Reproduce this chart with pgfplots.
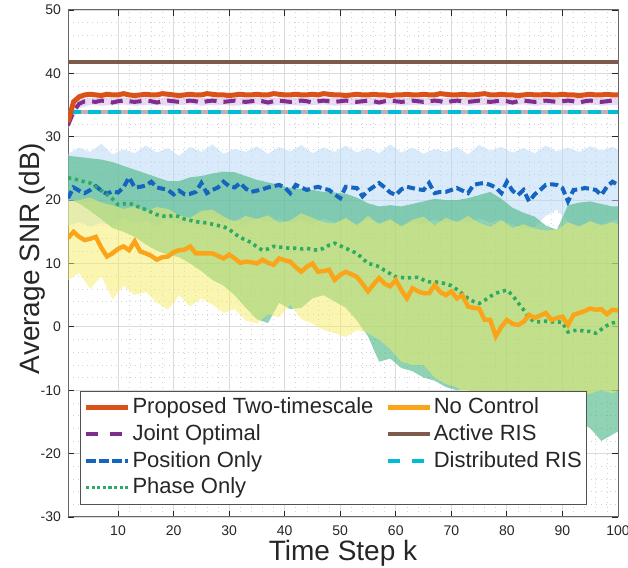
\documentclass[border=0pt]{standalone}
\usepackage{fontspec}
\setmainfont{Liberation Sans}
\usepackage{pgfplots}
\pgfplotsset{compat=1.18}
\usepgfplotslibrary{fillbetween}
\usepackage{pgfplotstable}

\definecolor{cprop}{RGB}{217,83,25}
\definecolor{cjoint}{RGB}{126,47,142}
\definecolor{cpos}{RGB}{21,101,192}
\definecolor{cphase}{RGB}{46,170,100}
\definecolor{cnc}{RGB}{250,165,25}
\definecolor{cact}{RGB}{125,90,75}
\definecolor{cdist}{RGB}{0,188,212}
\definecolor{cgline}{RGB}{195,175,175}
\definecolor{axgray}{RGB}{38,38,38}
\definecolor{bpos}{RGB}{185,218,245}
\definecolor{bphase}{RGB}{70,180,130}
\definecolor{bnc}{RGB}{245,238,100}
\definecolor{bjoint}{RGB}{200,160,225}

% mean curves, one row per time step
\pgfplotstableread{
k pos ph nc prop jo
1 20.3 23.5 14.0 32.3 31.8
2 22.0 23.4 15.0 35.5 34.0
3 21.5 23.1 14.2 36.3 35.2
4 21.1 22.9 13.7 36.6 35.6
5 21.6 22.7 13.9 36.7 35.6
6 22.2 22.1 14.2 36.6 35.5
7 21.5 21.5 12.5 36.5 35.7
8 21.0 20.9 11.1 36.7 35.6
9 21.4 20.2 11.6 36.6 35.4
10 21.2 19.3 12.3 36.6 35.6
11 22.0 19.4 12.7 36.8 35.7
12 23.6 19.5 12.1 36.6 35.6
13 22.0 19.2 13.5 36.5 35.5
14 22.1 18.8 11.9 36.6 35.6
15 22.3 18.5 11.6 36.7 35.7
16 22.9 18.1 11.2 36.6 35.6
17 22.0 17.7 10.6 36.6 35.4
18 21.8 17.5 11.0 36.8 35.6
19 21.6 17.4 11.1 36.7 35.7
20 20.9 17.6 11.8 36.6 35.6
21 21.5 17.4 12.1 36.5 35.5
22 20.9 17.0 12.2 36.6 35.6
23 21.0 16.8 12.7 36.7 35.7
24 21.3 16.6 11.6 36.6 35.6
25 22.7 16.5 11.6 36.6 35.4
26 21.1 16.4 11.6 36.8 35.6
27 21.6 16.2 11.6 36.7 35.7
28 22.0 16.0 11.2 36.6 35.6
29 22.9 15.8 10.8 36.6 35.5
30 22.2 15.4 11.4 36.5 35.6
31 22.0 14.7 10.8 36.6 35.7
32 22.7 14.1 10.1 36.7 35.6
33 21.8 13.7 10.3 36.6 35.5
34 21.3 13.3 10.2 36.6 35.6
35 21.5 12.6 10.0 36.7 35.7
36 21.7 12.1 10.6 36.6 35.6
37 22.0 12.3 10.1 36.6 35.4
38 22.2 12.7 9.8 36.8 35.6
39 22.4 12.6 10.8 36.7 35.7
40 22.0 12.5 10.5 36.6 35.6
41 21.1 12.4 10.3 36.6 35.5
42 22.4 12.4 9.4 36.7 35.6
43 22.0 12.3 8.7 36.6 35.7
44 21.6 12.4 9.5 36.6 35.6
45 21.9 12.2 10.0 36.7 35.4
46 22.1 12.1 8.7 36.6 35.6
47 21.8 12.4 8.8 36.8 35.7
48 21.6 12.9 9.0 36.7 35.6
49 20.9 13.2 7.4 36.6 35.5
50 20.3 12.8 8.2 36.6 35.6
51 22.1 12.4 8.7 36.5 35.7
52 22.0 12.0 8.3 36.6 35.6
53 21.9 11.6 7.9 36.7 35.5
54 20.6 10.8 6.8 36.6 35.6
55 21.5 10.0 5.6 36.6 35.7
56 22.1 9.8 6.7 36.7 35.6
57 22.7 9.5 7.7 36.6 35.4
58 22.0 8.9 6.8 36.6 35.6
59 21.2 8.4 6.4 36.5 35.7
60 20.8 7.9 7.4 36.6 35.6
61 21.7 7.8 5.8 36.6 35.5
62 22.1 7.7 4.5 36.7 35.6
63 21.9 7.8 6.1 36.6 35.7
64 21.7 7.8 5.6 36.6 35.6
65 21.6 7.4 5.3 36.7 35.5
66 22.7 7.1 5.3 36.6 35.6
67 21.1 7.1 6.6 36.6 35.7
68 21.3 7.0 5.5 36.8 35.6
69 21.3 6.8 5.0 36.7 35.4
70 21.6 6.5 5.6 36.6 35.6
71 21.9 5.9 4.5 36.6 35.7
72 21.5 5.2 5.0 36.7 35.6
73 21.1 4.5 3.2 36.6 35.5
74 22.4 4.0 3.0 36.6 35.6
75 22.6 3.7 2.9 36.7 35.7
76 22.7 4.2 1.1 36.8 35.6
77 22.4 4.8 1.1 36.6 35.5
78 22.0 5.3 -1.5 36.6 35.6
79 21.1 5.6 0.0 36.7 35.7
80 22.9 5.8 1.1 36.6 35.6
81 21.5 5.0 0.5 36.6 35.4
82 20.8 3.8 0.3 36.5 35.6
83 21.6 2.7 0.8 36.6 35.7
84 19.8 1.4 1.9 36.7 35.6
85 20.9 0.8 1.4 36.6 35.5
86 21.6 0.8 1.8 36.6 35.6
87 22.4 0.9 2.2 36.7 35.7
88 22.5 0.8 1.1 36.6 35.6
89 22.4 0.8 1.4 36.6 35.5
90 21.9 0.7 1.6 36.7 35.6
91 19.8 -0.8 0.3 36.6 35.7
92 21.6 -0.6 1.9 36.6 35.6
93 21.7 -0.5 2.2 36.5 35.4
94 21.9 -0.7 2.5 36.6 35.6
95 21.8 -0.7 2.9 36.7 35.7
96 21.6 -1.0 2.7 36.6 35.6
97 20.8 -0.4 2.8 36.6 35.5
98 22.1 0.2 2.0 36.7 35.6
99 22.9 0.6 2.7 36.6 35.7
100 22.4 0.8 2.6 36.6 35.6
}\means

% shaded bands, every second step
\pgfplotstableread{
k poslo poshi phlo phhi nclo nchi jlo jhi
1 16.0 27.3 20.2 27.0 7.4 19.8 31.2 32.4
3 16.5 28.3 19.5 26.8 8.5 20.0 34.5 35.9
5 15.8 27.6 18.3 26.6 6.0 20.4 35.0 36.1
7 16.4 28.9 17.0 26.4 8.0 19.6 34.9 36.2
9 16.0 27.2 15.6 26.0 4.3 19.2 35.0 36.1
11 17.2 28.0 15.0 25.4 6.5 18.6 35.1 36.2
13 16.3 27.4 14.2 24.8 5.0 19.0 34.9 36.1
15 16.8 28.6 13.0 24.2 5.5 18.2 35.0 36.2
17 16.0 27.5 12.0 23.6 3.8 18.9 35.0 36.1
19 17.0 28.2 11.4 23.0 2.7 18.6 34.9 36.2
21 16.2 27.0 11.0 23.0 5.0 17.6 35.0 36.1
23 16.8 28.4 10.0 23.6 3.2 17.2 35.1 36.2
25 16.0 27.6 8.8 23.8 4.5 18.3 34.9 36.1
27 17.3 28.8 7.4 24.2 3.5 18.5 35.0 36.2
29 16.4 27.3 6.5 24.5 2.2 17.4 35.0 36.1
31 16.9 28.1 5.0 24.4 2.8 16.6 34.9 36.2
33 16.1 27.6 3.0 23.8 1.0 17.5 35.0 36.1
35 17.2 28.5 1.2 23.2 0.5 17.0 35.1 36.2
37 16.5 27.3 0.6 22.8 2.0 17.6 34.9 36.1
39 17.0 28.4 3.8 22.4 1.5 16.4 35.0 36.2
41 16.3 27.7 2.8 21.9 3.5 16.8 35.0 36.1
43 16.9 28.7 3.0 21.8 1.2 17.9 34.9 36.2
45 16.1 27.4 4.5 21.6 0.5 17.2 35.0 36.1
47 17.1 28.3 5.0 21.3 -0.5 16.5 35.1 36.2
49 16.5 27.6 4.0 21.2 -1.0 16.3 34.9 36.1
51 16.9 28.6 3.0 21.0 -1.6 17.2 35.0 36.2
53 16.2 27.5 1.0 20.4 -0.5 16.0 35.0 36.1
55 17.0 28.2 -1.5 19.5 -1.0 17.5 34.9 36.2
57 16.4 27.4 -5.5 19.0 -2.0 16.2 35.0 36.1
59 16.8 28.8 -5.0 19.2 -3.5 17.0 35.1 36.2
61 16.0 27.5 -6.5 19.0 -5.5 15.8 34.9 36.1
63 16.6 28.3 -7.0 19.4 -6.0 16.9 35.0 36.2
65 16.2 27.3 -8.0 19.8 -6.0 17.4 35.0 36.1
67 17.0 28.1 -8.5 20.2 -8.0 16.0 34.9 36.2
69 16.4 27.6 -9.5 20.0 -9.0 17.2 35.0 36.1
71 16.8 28.4 -10.0 20.0 -9.5 16.5 35.1 36.2
73 16.3 27.2 -10.0 20.3 -11.0 17.5 34.9 36.1
75 17.1 28.7 -10.5 20.8 -12.5 16.4 35.0 36.2
77 16.5 27.8 -13.0 21.3 -12.0 15.8 35.0 36.1
79 16.9 28.4 -14.0 20.2 -13.0 16.8 34.9 36.2
81 16.2 27.5 -14.5 18.8 -13.5 15.6 35.0 36.1
83 15.5 28.2 -15.0 18.0 -13.5 16.2 35.1 36.2
85 15.8 27.4 -15.8 17.4 -13.0 15.5 34.9 36.1
87 17.5 28.6 -16.2 16.0 -13.0 15.2 35.0 36.2
89 18.5 27.7 -16.5 15.3 -12.5 15.3 35.0 36.1
91 16.5 28.3 -17.0 19.2 -12.0 16.5 34.9 36.2
93 16.0 27.6 -15.0 19.6 -11.0 15.8 35.0 36.1
95 16.6 28.5 -16.0 19.8 -10.5 16.7 35.1 36.2
97 16.2 27.8 -18.0 19.4 -10.0 16.0 34.9 36.1
99 16.8 28.4 -17.0 19.0 -10.5 16.5 35.0 36.2
100 17.0 28.0 -16.5 19.0 -10.0 16.2 35.0 36.1
}\bands

\begin{document}
\begin{tikzpicture}
\begin{axis}[
  scale only axis, width=275pt, height=253.5pt,
  xmin=1, xmax=100, ymin=-30, ymax=50,
  xtick={10,20,...,100}, ytick={-30,-20,...,50},
  minor x tick num=4, minor y tick num=4,
  grid=both,
  major grid style={gray!28, line width=0.4pt},
  minor grid style={gray!35, dotted, line width=0.3pt},
  tick align=inside,
  axis line style={draw=axgray!70, line width=0.5pt},
  tick style={axgray, line width=0.4pt},
  major tick length=3pt, minor tick length=0pt,
  ticklabel style={font=\fontsize{7}{8}\selectfont, text=axgray},
  xticklabel style={yshift=-1pt},
  /pgf/number format/assume math mode=true,
  xlabel={Time Step k}, ylabel={Average SNR (dB)},
  label style={font=\fontsize{14}{16}\selectfont, text=axgray},
  xlabel style={at={(axis description cs:0.5,-0.086)}, anchor=base, inner sep=0pt},
  ylabel style={at={(axis description cs:-0.051,0.51)}, anchor=base},
  legend columns=2,
  legend cell align=left,
  legend image code/.code={\draw[#1] (0pt,0pt) -- (21pt,0pt);},
  legend style={at={(axis description cs:0.022,0.025)}, anchor=south west,
    draw=axgray!80, fill=white, font=\fontsize{11}{12}\selectfont,
    text=axgray, inner sep=1.5pt,
    nodes={inner sep=1pt, text height=8.8pt, text depth=2.55pt},
    /tikz/every even column/.append style={column sep=5pt}},
]
% bands
\addplot[name path=poshi, draw=none, forget plot] table[x=k, y=poshi]{\bands};
\addplot[name path=poslo, draw=none, forget plot] table[x=k, y=poslo]{\bands};
\addplot[fill=bpos, fill opacity=0.55, draw=none, forget plot] fill between[of=poshi and poslo];
\addplot[name path=phhi, draw=none, forget plot] table[x=k, y=phhi]{\bands};
\addplot[name path=phlo, draw=none, forget plot] table[x=k, y=phlo]{\bands};
\addplot[fill=bphase, fill opacity=0.6, draw=none, forget plot] fill between[of=phhi and phlo];
\addplot[name path=nchi, draw=none, forget plot] table[x=k, y=nchi]{\bands};
\addplot[name path=nclo, draw=none, forget plot] table[x=k, y=nclo]{\bands};
\addplot[fill=bnc, fill opacity=0.5, draw=none, forget plot] fill between[of=nchi and nclo];
\addplot[name path=jhi, draw=none, forget plot] table[x=k, y=jhi]{\bands};
\addplot[name path=jlo, draw=none, forget plot] table[x=k, y=jlo]{\bands};
\addplot[fill=bjoint, fill opacity=0.4, draw=none, forget plot] fill between[of=jhi and jlo];

% curves
\addplot[cpos, line width=2pt, dash pattern=on 4pt off 2pt, forget plot] table[x=k, y=pos]{\means};
\addplot[cphase, line width=1.8pt, dash pattern=on 1.6pt off 1.9pt, forget plot] table[x=k, y=ph]{\means};
\addplot[cnc, line width=2.2pt, forget plot] table[x=k, y=nc]{\means};
\addplot[cact, line width=2pt, forget plot] coordinates {(1,41.8) (100,41.8)};
\addplot[cgline, line width=1.6pt, forget plot] coordinates {(1,33.9) (100,33.9)};
\addplot[cdist, line width=2pt, dash pattern=on 6.5pt off 3.5pt, forget plot] coordinates {(1,33.9) (100,33.9)};
\addplot[cjoint, line width=2pt, dash pattern=on 6pt off 3.5pt, forget plot] table[x=k, y=jo]{\means};
\addplot[cprop, line width=2.5pt, forget plot] table[x=k, y=prop]{\means};

% legend, filled row by row
\addlegendimage{cprop, line width=2.5pt}
\addlegendentry{Proposed Two-timescale}
\addlegendimage{cnc, line width=2.2pt}
\addlegendentry{No Control}
\addlegendimage{cjoint, line width=2pt, dash pattern=on 6pt off 6pt}
\addlegendentry{Joint Optimal}
\addlegendimage{cact, line width=2pt}
\addlegendentry{Active RIS}
\addlegendimage{cpos, line width=2pt, dash pattern=on 5pt off 1.5pt}
\addlegendentry{Position Only}
\addlegendimage{cdist, line width=2pt, dash pattern=on 6pt off 6pt}
\addlegendentry{Distributed RIS}
\addlegendimage{cphase, line width=1.8pt, dash pattern=on 1.6pt off 1.2pt}
\addlegendentry{Phase Only}
\end{axis}
\pgfresetboundingbox
\path ([shift={(-34pt,-25.5pt)}]current axis.south west) rectangle ([shift={(5pt,5pt)}]current axis.north east);
\end{tikzpicture}
\end{document}
